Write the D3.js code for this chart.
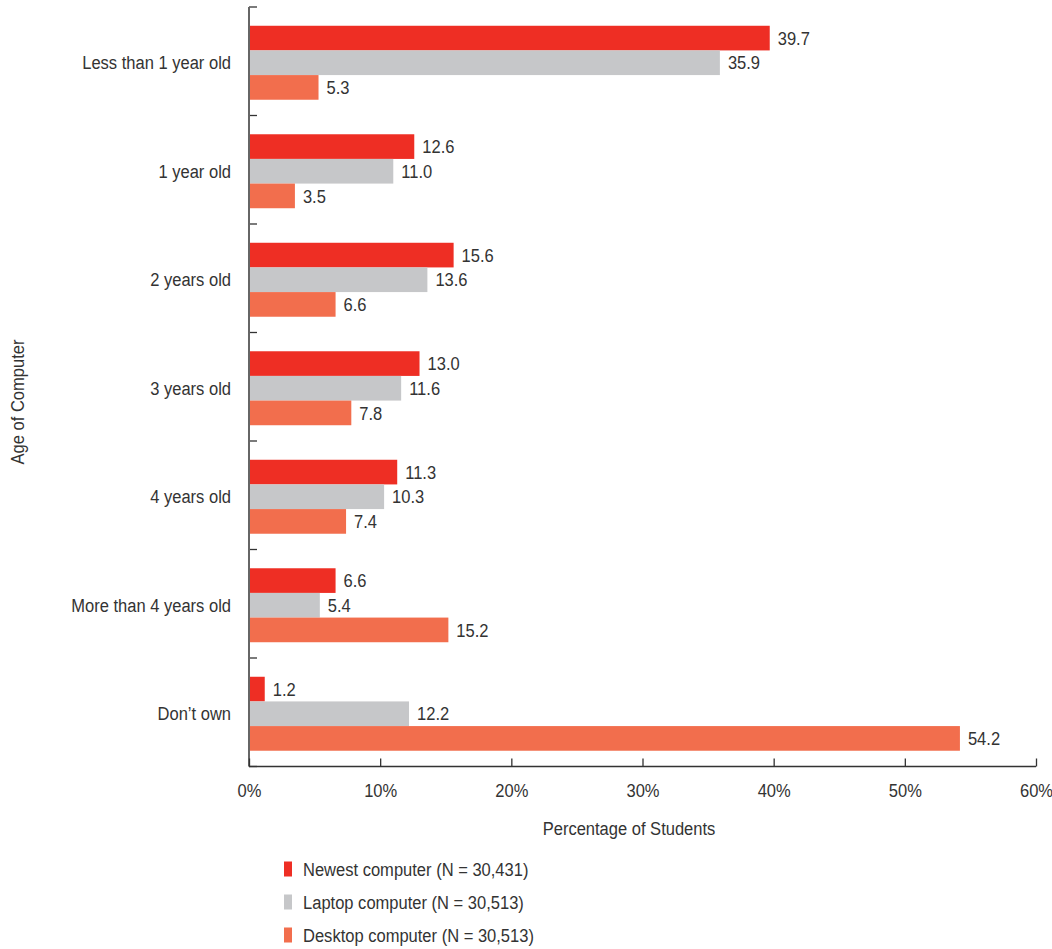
<!DOCTYPE html>
<html>
<head>
<meta charset="utf-8">
<script src="https://cdn.jsdelivr.net/npm/d3@7"></script>
<style>
  body { margin: 0; background: #fff; }
  svg text { font-family: "Liberation Sans", Arial, sans-serif; fill: #333; }
</style>
</head>
<body>
<svg id="chart" width="1052" height="949"></svg>
<script>
// Age of computer categories (top to bottom)
const categories = ["Less than 1 year old", "1 year old", "2 years old", "3 years old", "4 years old", "More than 4 years old", "Don\u2019t own"];
// Percentage of students per series
const newestValues  = [39.7, 12.6, 15.6, 13.0, 11.3, 6.6, 1.2];
const laptopValues  = [35.9, 11.0, 13.6, 11.6, 10.3, 5.4, 12.2];
const desktopValues = [5.3, 3.5, 6.6, 7.8, 7.4, 15.2, 54.2];
const seriesNames = ["Newest computer (N = 30,431)", "Laptop computer (N = 30,513)", "Desktop computer (N = 30,513)"];
const seriesColors = ["#ee2e24", "#c6c7c9", "#f26e4d"];
const xTicks = [0, 10, 20, 30, 40, 50, 60];

const series = [newestValues, laptopValues, desktopValues].map((vals, i) => ({
  name: seriesNames[i], color: seriesColors[i], values: vals
}));

const svg = d3.select("#chart");
const plotLeft = 249, plotRight = 1036, plotTop = 7, plotBottom = 766.5;
const FONT = 19, SQUEEZE = 0.87;   // narrow lettering

// Places a horizontally condensed text label at (px, py)
function label(parent, px, py, str, anchor) {
  return parent.append("text")
    .attr("transform", `translate(${px},${py}) scale(${SQUEEZE},1)`)
    .attr("text-anchor", anchor || "start")
    .attr("dy", "0.35em")
    .attr("font-size", FONT)
    .text(str);
}

const x = d3.scaleLinear().domain([0, 60]).range([plotLeft, plotRight]);
const y = d3.scaleBand().domain(categories).range([plotTop, plotBottom]).paddingInner(0).paddingOuter(0);
const shift = 1.5;
const inner = d3.scaleBand().domain(d3.range(series.length))
  .range([shift, y.bandwidth() + shift]).paddingOuter(0.7).paddingInner(0);

// Bars and value labels
categories.forEach((cat, ci) => {
  const g = svg.append("g").attr("transform", `translate(0,${y(cat)})`);
  series.forEach((s, si) => {
    const v = s.values[ci];
    g.append("rect")
      .attr("x", x(0))
      .attr("y", inner(si))
      .attr("width", x(v) - x(0))
      .attr("height", inner.bandwidth())
      .attr("fill", s.color);
    label(g, x(v) + 8, inner(si) + inner.bandwidth() / 2, d3.format(".1f")(v));
  });
});

// Category axis: ticks mark band boundaries, pointing into the plot
const yBounds = categories.map(c => y(c)).concat([plotBottom]);
yBounds.forEach(b => {
  svg.append("line").attr("x1", plotLeft).attr("x2", plotLeft + 8).attr("y1", b).attr("y2", b)
    .attr("stroke", "#333").attr("stroke-width", 1.3);
});
svg.append("line").attr("x1", plotLeft).attr("x2", plotLeft).attr("y1", plotTop).attr("y2", plotBottom)
  .attr("stroke", "#666").attr("stroke-width", 2);
categories.forEach(c => {
  label(svg, 231, y(c) + y.bandwidth() / 2 + shift, c, "end");
});

// Value axis
const xAxis = d3.axisBottom(x).tickValues(xTicks).tickSize(-8).tickPadding(17).tickFormat(d => d + "%");
const xg = svg.append("g").attr("transform", `translate(0,${plotBottom})`).call(xAxis);
xg.select(".domain").attr("stroke", "#333").attr("stroke-width", 1.5).attr("d", `M${plotLeft},0H${plotRight}`);
xg.selectAll(".tick line").attr("stroke", "#333").attr("stroke-width", 1.3);
xg.selectAll(".tick text")
  .attr("font-size", FONT).attr("fill", "#333")
  .attr("transform", `scale(${SQUEEZE},1)`)
  .style("font-family", '"Liberation Sans", Arial, sans-serif');

// Axis titles
label(svg, 629, 828, "Percentage of Students", "middle");
svg.append("text")
  .attr("transform", `translate(17,402) rotate(-90) scale(${SQUEEZE},1)`)
  .attr("text-anchor", "middle")
  .attr("dy", "0.35em")
  .attr("font-size", FONT)
  .text("Age of Computer");

// Legend
series.forEach((s, i) => {
  const ly = 869 + i * 33;
  svg.append("rect").attr("x", 284).attr("y", ly - 7.5).attr("width", 8).attr("height", 15).attr("fill", s.color);
  label(svg, 303, ly, s.name);
});
</script>
</body>
</html>
